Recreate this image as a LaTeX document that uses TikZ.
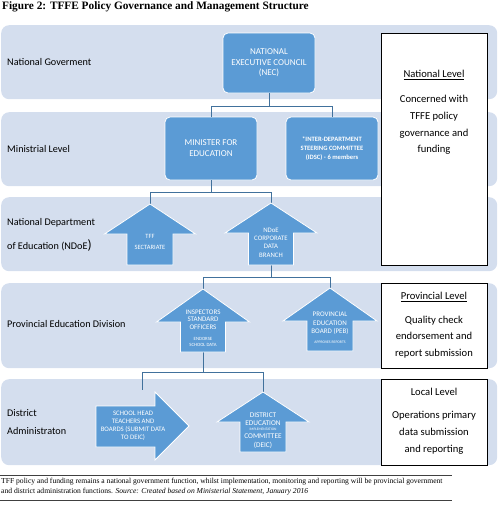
\documentclass[tikz,border=0pt]{standalone}
\usepackage{fontspec}
\setmainfont{Carlito}
\newfontfamily\timesf{Liberation Serif}
\definecolor{bandc}{RGB}{212,222,238}
\definecolor{boxblue}{RGB}{91,155,213}
\definecolor{connc}{RGB}{65,113,156}
\newcommand{\fs}[2]{\fontsize{#1}{#2}\selectfont}
\begin{document}
\begin{tikzpicture}[x=1pt,y=-1pt,
  bandbox/.style={fill=bandc, draw=none, rounded corners=8pt, anchor=north west, inner sep=0pt, minimum width=496pt},
  bluebox/.style={fill=boxblue, draw=white, line width=0.8pt, rounded corners=5pt, text=white, align=center, inner sep=1pt, minimum width=92pt},
  levelbox/.style={draw=black, line width=0.9pt, fill=white, anchor=north west, inner sep=0pt, minimum width=106pt},
  arrowfill/.style={fill=boxblue, draw=white, line width=0.8pt},
  connline/.style={draw=connc, line width=0.9pt},
  lbl/.style={anchor=west, inner sep=0pt, font=\fs{10.2}{11}},
  lvtitle/.style={inner sep=0pt, align=center, font=\fs{10.6}{12}},
  lvbody/.style={inner sep=0pt, align=center, font=\fs{10.6}{16.8}},
  atxt/.style={inner sep=0pt, align=center, text=white},
]
\useasboundingbox (0,0) rectangle (500,507);
% title
\node[anchor=west, inner sep=0pt, font=\timesf\bfseries\fs{11.3}{12}] (title) at (2,7) {Figure 2: TFFE Policy Governance and Management Structure};
% bands
\node[bandbox, minimum height=74pt] (band1) at (1,25) {};
\node[bandbox, minimum height=74pt] (band2) at (1,112) {};
\node[bandbox, minimum height=74pt] (band3) at (1,197) {};
\node[bandbox, minimum height=85pt] (band4) at (1,283) {};
\node[bandbox, minimum height=86pt] (band5) at (1,379) {};
% level boxes
\node[levelbox, minimum height=232pt] (lv1) at (381,33) {};
\node[levelbox, minimum height=85pt] (lv2) at (381,283) {};
\node[levelbox, minimum height=86pt] (lv3) at (381,379) {};
\node[lvtitle] (lv1t) at (434,75) {\underline{National Level}};
\node[lvbody] (lv1b) at (434,125) {Concerned with\\TFFE policy\\governance and\\funding};
\node[lvtitle] (lv2t) at (434,297) {\underline{Provincial Level}};
\node[lvbody] (lv2b) at (434,337) {Quality check\\endorsement and\\report submission};
\node[lvtitle] (lv3t) at (434,392) {Local Level};
\node[lvbody] (lv3b) at (434,433) {Operations primary\\data submission\\and reporting};
% left labels
\node[lbl] (l1) at (7,62) {National Goverment};
\node[lbl] (l2) at (7,149) {Ministrial Level};
\node[lbl] (l3) at (7,223) {National Department};
\node[lbl] (l3b) at (7,245) {of Education (NDoE{\fs{13.5}{13})}};
\node[lbl] (l4) at (7,324) {Provincial Education Division};
\node[lbl] (l5) at (7,413) {District};
\node[lbl] (l5b) at (7,431) {Administraton};
% blue boxes
\node[bluebox, minimum height=60pt, font=\fs{9}{10.5}] (nec) at (269,63) {NATIONAL\\EXECUTIVE COUNCIL\\(NEC)};
\node[bluebox, minimum height=63pt, font=\fs{9}{11}] (minister) at (211,148.5) {MINISTER FOR\\EDUCATION};
\node[bluebox, minimum height=63pt, font=\bfseries\fs{6.6}{9}] (idsc) at (332,148.5) {*INTER-DEPARTMENT\\STEERING COMMITTEE\\(IDSC) - 6 members};
% arrow tip / bottom coordinates
\coordinate (tfftip) at (150,204);
\coordinate (tffbot) at (150,265);
\coordinate (ndoetip) at (271,203);
\coordinate (ndoebot) at (271,265);
\coordinate (insptip) at (203,289);
\coordinate (inspbot) at (203,352);
\coordinate (pebtip) at (330,288);
\coordinate (deictip) at (263,392);
\coordinate (schoolend) at (142,390);
\coordinate (j1) at (269,106);
\coordinate (j2) at (211,192);
\coordinate (j3) at (271,277);
\coordinate (j4) at (203,372);
% connectors
\draw[connline] (nec.south) -- (j1);
\draw[connline] (j1) -| (minister.north);
\draw[connline] (j1) -| (idsc.north);
\draw[connline] (minister.south) -- (j2);
\draw[connline] (j2) -| (tfftip);
\draw[connline] (j2) -| (ndoetip);
\draw[connline] (ndoebot) -- (j3);
\draw[connline] (j3) -| (insptip);
\draw[connline] (j3) -| (pebtip);
\draw[connline] (inspbot) -- (j4);
\draw[connline] (j4) -| (schoolend);
\draw[connline] (j4) -| (deictip);
% arrow shapes
\path[arrowfill] (tfftip) -- (195.5,234) -- (173,234) -- (173,265) -- (127,265) -- (127,234) -- (104.5,234) -- cycle;
\path[arrowfill] (ndoetip) -- (317,233) -- (293.5,233) -- (293.5,265) -- (248.5,265) -- (248.5,233) -- (225,233) -- cycle;
\path[arrowfill] (insptip) -- (249.5,322) -- (225.5,322) -- (225.5,352) -- (180.5,352) -- (180.5,322) -- (156.5,322) -- cycle;
\path[arrowfill] (pebtip) -- (377,321) -- (353,321) -- (353,351) -- (307,351) -- (307,321) -- (283,321) -- cycle;
\path[arrowfill] (deictip) -- (309,422) -- (286,422) -- (286,452) -- (240,452) -- (240,422) -- (217,422) -- cycle;
\path[arrowfill] (96,406) -- (155,406) -- (155,392) -- (189,426) -- (155,460) -- (155,447) -- (96,447) -- cycle;
% arrow texts
\node[atxt, font=\fs{6.5}{11}] (tff) at (150,241.5) {TFF\\SECTARIATE};
\node[atxt, font=\fs{6.8}{8.4}] (ndoe) at (271,242.5) {NDoE\\CORPORATE\\DATA\\BRANCH};
\node[atxt, font=\fs{7}{7.6}] (insp) at (203,319.5) {INSPECTORS\\STANDARD\\OFFICERS};
\node[atxt, font=\fs{4.8}{6}] (insp2) at (203,342) {ENDORSE\\SCHOOL DATA};
\node[atxt, font=\fs{7}{8.5}] (peb) at (330,323.5) {PROVINCIAL\\EDUCATION\\BOARD (PEB)};
\node[atxt, font=\fs{3.8}{5}] (peb2) at (330,342) {APPROVES REPORTS};
\node[atxt, font=\fs{6.8}{8}] (school) at (133,425.5) {SCHOOL HEAD\\TEACHERS AND\\BOARDS (SUBMIT DATA\\TO DEIC)};
\node[atxt, font=\fs{7.3}{8.2}] (deic) at (263,419) {DISTRICT\\EDUCATION};
\node[atxt, font=\fs{3.6}{4.5}] (deic2) at (263,429.5) {IMPLEMENTATION};
\node[atxt, font=\fs{7.3}{9}] (deic3) at (263,441.5) {COMMITTEE\\(DEIC)};
% footer
\coordinate (ft1a) at (0,475);
\coordinate (ft1b) at (452,475);
\coordinate (ft2a) at (0,500);
\coordinate (ft2b) at (452,500);
\draw[line width=0.6pt, black!75] (ft1a) -- (ft1b);
\draw[line width=0.6pt, black!75] (ft2a) -- (ft2b);
\node[anchor=north west, inner sep=0pt, align=left, font=\timesf\fs{7.6}{9.5}] (foot) at (1,478) {TFF policy and funding remains a national government function, whilst implementation, monitoring and reporting will be provincial government\\and district administration functions. \textit{Source: Created based on Ministerial Statement, January 2016}};
\end{tikzpicture}
\end{document}
